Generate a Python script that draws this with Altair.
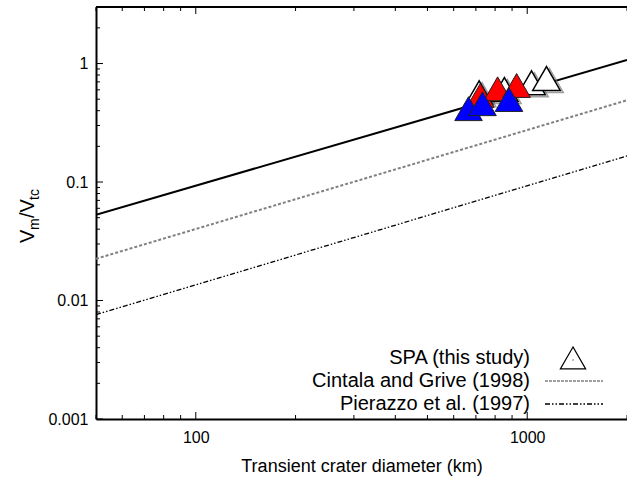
import altair as alt
import pandas as pd

# ---------------- data ----------------
open_d = [716, 853, 1030, 1143]
open_r = [0.567, 0.604, 0.688, 0.748]
red_d = [722, 814, 929]
red_r = [0.538, 0.612, 0.653]
blue_d = [665, 733, 881]
blue_r = [0.416, 0.458, 0.497]

line_d = [50, 2000]
this_r = [0.053, 1.07]
cg_r = [0.0225, 0.49]
pz_r = [0.0076, 0.166]

x_major = [100, 1000]
x_minor = [50, 60, 70, 80, 90, 200, 300, 400, 500, 600, 700, 800, 900, 2000]
y_major = [0.001, 0.01, 0.1, 1]
y_minor = [m * 10.0 ** e for e in (-3, -2, -1) for m in range(2, 10)] + [2, 3]

legend_labels = ["SPA (this study)", "Cintala and Grive (1998)", "Pierazzo et al. (1997)"]

W, H = 531, 412
FONT = "Liberation Sans"

xs = alt.Scale(type="log", domain=[50, 2000], nice=False)
ys = alt.Scale(type="log", domain=[0.001, 3], nice=False)


def df(d, r):
    return pd.DataFrame({"d": d, "r": r})


x_axis = alt.Axis(values=x_major, labelExpr="format(datum.value, 'd')", ticks=False, grid=False,
                  domain=True, domainColor="black", domainWidth=2, labelFontSize=16,
                  labelColor="black", labelPadding=10, title="Transient crater diameter (km)",
                  titleFontSize=18, titleFontWeight="normal", titleColor="black", titlePadding=12)
y_axis = alt.Axis(values=y_major, labelExpr="format(datum.value, '~g')", ticks=False, grid=False,
                  domain=True, domainColor="black", domainWidth=2, labelFontSize=16,
                  labelColor="black", labelPadding=8, title=None)

base_lines = alt.Chart(df(line_d, this_r)).mark_line(color="black", strokeWidth=2, clip=True).encode(
    x=alt.X("d:Q", scale=xs, axis=x_axis), y=alt.Y("r:Q", scale=ys, axis=y_axis))
cg_line = alt.Chart(df(line_d, cg_r)).mark_line(color="#808080", strokeWidth=2, strokeDash=[3, 2], clip=True).encode(
    x=alt.X("d:Q", scale=xs), y=alt.Y("r:Q", scale=ys))
pz_line = alt.Chart(df(line_d, pz_r)).mark_line(color="black", strokeWidth=1.3, strokeDash=[5, 2, 1.5, 2, 1.5, 2], clip=True).encode(
    x=alt.X("d:Q", scale=xs), y=alt.Y("r:Q", scale=ys))

TRI = 760
open_shadow = alt.Chart(df(open_d, open_r)).mark_point(shape="triangle-up", size=TRI, filled=False,
                                                       stroke="#777777", strokeWidth=1.5, xOffset=3, yOffset=2).encode(
    x=alt.X("d:Q", scale=xs), y=alt.Y("r:Q", scale=ys))
open_pts = alt.Chart(df(open_d, open_r)).mark_point(shape="triangle-up", size=TRI, filled=True, fill="white",
                                                    fillOpacity=1, stroke="black", strokeWidth=1.5, opacity=1).encode(
    x=alt.X("d:Q", scale=xs), y=alt.Y("r:Q", scale=ys))
red_pts = alt.Chart(df(red_d, red_r)).mark_point(shape="triangle-up", size=TRI, filled=True, fill="#ff0000",
                                                 fillOpacity=1, stroke="#222222", strokeWidth=1, opacity=1).encode(
    x=alt.X("d:Q", scale=xs), y=alt.Y("r:Q", scale=ys))
blue_pts = alt.Chart(df(blue_d, blue_r)).mark_point(shape="triangle-up", size=TRI, filled=True, fill="#0000ff",
                                                    fillOpacity=1, stroke="#222222", strokeWidth=1, opacity=1).encode(
    x=alt.X("d:Q", scale=xs), y=alt.Y("r:Q", scale=ys))

# inward ticks
def xticks(vals, length, top):
    y0 = 0 if top else H
    y1 = length if top else H - length
    return alt.Chart(pd.DataFrame({"d": vals})).mark_rule(color="black", strokeWidth=1).encode(
        x=alt.X("d:Q", scale=xs), y=alt.value(y0), y2=alt.value(y1))


def yticks(vals, length):
    return alt.Chart(pd.DataFrame({"r": vals})).mark_rule(color="black", strokeWidth=1).encode(
        y=alt.Y("r:Q", scale=ys), x=alt.value(0), x2=alt.value(length))


one = alt.Data(values=[{"a": 1}])
top_frame = alt.Chart(one).mark_rule(color="black", strokeWidth=2).encode(
    x=alt.value(0), x2=alt.value(W), y=alt.value(0))

# y title with subscripts
def ytxt(t, x, y, size):
    return alt.Chart(one).mark_text(text=t, angle=270, align="left", baseline="alphabetic",
                                    fontSize=size, font=FONT, color="black").encode(
        x=alt.value(x), y=alt.value(y))

yx = -62
ytitle = [ytxt("V", yx, 236, 20), ytxt("m", yx + 5, 223, 14), ytxt("/V", yx, 211, 20),
          ytxt("tc", yx + 5, 193, 14)]

# legend
lx_text = 434
ly = [351, 374, 397]
leg = []
for lab, yy in zip(legend_labels, ly):
    leg.append(alt.Chart(one).mark_text(text=lab, align="right", baseline="middle", fontSize=20,
                                        font=FONT, color="black").encode(x=alt.value(lx_text), y=alt.value(yy)))
leg.append(alt.Chart(one).mark_point(shape="triangle-up", size=640, filled=True, fill="white", fillOpacity=1,
                                     stroke="black", strokeWidth=1.2).encode(x=alt.value(477), y=alt.value(ly[0])))
leg.append(alt.Chart(one).mark_point(shape="circle", size=2, filled=True, color="black").encode(
    x=alt.value(477), y=alt.value(ly[0] + 2)))
leg.append(alt.Chart(one).mark_rule(color="#808080", strokeWidth=1.5, strokeDash=[3, 1]).encode(
    x=alt.value(449), x2=alt.value(507), y=alt.value(ly[1])))
leg.append(alt.Chart(one).mark_rule(color="black", strokeWidth=1.3, strokeDash=[5, 2, 1.5, 2, 1.5, 2]).encode(
    x=alt.value(449), x2=alt.value(507), y=alt.value(ly[2])))

layers = [base_lines, cg_line, pz_line,
          xticks(x_major, 7, False), xticks(x_minor, 4, False),
          xticks(x_major, 7, True), xticks(x_minor, 4, True),
          yticks(y_major, 7), yticks(y_minor, 4), top_frame,
          open_shadow, open_pts, red_pts, blue_pts] + ytitle + leg

chart = alt.layer(*layers).properties(
    width=W, height=H, autosize=alt.AutoSizeParams(type="none"),
    padding={"left": 96, "top": 7, "right": 0, "bottom": 62}, background="white"
).configure_view(stroke=None).configure(font=FONT)

chart.save("out.html", embed_options={"renderer": "svg", "actions": False})
